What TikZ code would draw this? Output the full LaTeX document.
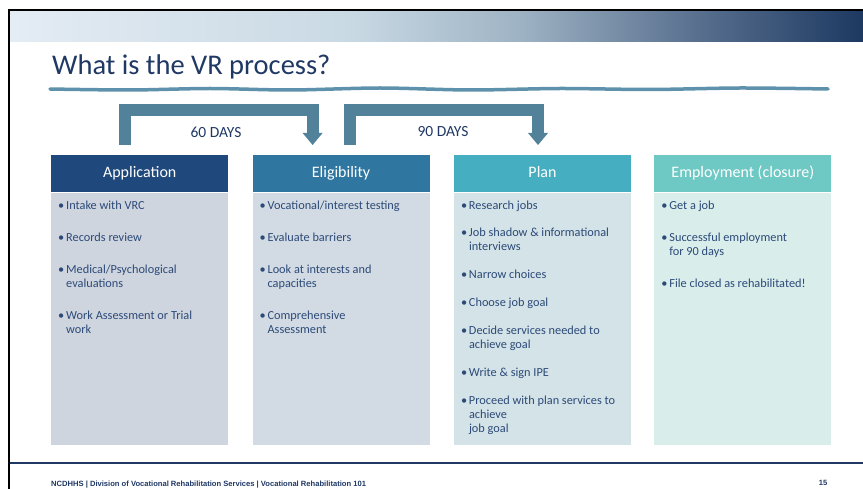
\documentclass[tikz,border=0pt]{standalone}
\usepackage{fontspec}
\setmainfont{Carlito}
\newfontfamily\footfont{Liberation Sans}
\usepackage{xcolor}
\usetikzlibrary{positioning,
	calc,
	arrows.meta}
\definecolor{navy}{HTML}{1F3864}
\definecolor{txtblue}{HTML}{2C4A78}
\definecolor{arrowblue}{HTML}{528299}
\definecolor{waveblue}{HTML}{5E91AB}
\definecolor{apphd}{HTML}{1F487C}
\definecolor{elihd}{HTML}{2F76A0}
\definecolor{planhd}{HTML}{45AEC0}
\definecolor{emphd}{HTML}{6EC8C3}
\definecolor{appbd}{HTML}{CFD5DF}
\definecolor{elibd}{HTML}{D2DBE3}
\definecolor{planbd}{HTML}{D4E3E7}
\definecolor{empbd}{HTML}{D9EDEB}
\definecolor{bandA}{HTML}{E4ECF4}
\definecolor{bandB}{HTML}{C9D9E4}
\definecolor{bandC}{HTML}{9DB2C3}
\definecolor{bandD}{HTML}{5A7190}
\definecolor{bandE}{HTML}{1D3961}
\pgfdeclarehorizontalshading{topband}{100bp}{color(0bp)=(bandA); color(25bp)=(bandA);
	color(45bp)=(bandB); color(55bp)=(bandC); color(65bp)=(bandD);
	color(75bp)=(bandE); color(100bp)=(bandE)}
\tikzstyle{hdr}=[minimum width=177pt, minimum height=37pt, inner sep=0,
		text height=11pt, text depth=3.5pt,
		text=white, font=\fontsize{16}{18}\selectfont]
\tikzstyle{bdy}=[minimum width=177pt, minimum height=252pt, inner sep=0]
\tikzstyle{items}=[anchor=base west, inner sep=0, text=txtblue,
		font=\fontsize{12.3}{14}\selectfont]
\tikzstyle{days}=[text=navy, font=\fontsize{15.5}{18}\selectfont]
\tikzstyle{dayarrow}=[draw=arrowblue, line width=12pt,
		-{Triangle[length=12pt, width=20pt, line width=0pt]}]
\tikzstyle{wave}=[draw=waveblue, line width=3.5pt, line cap=round]
\tikzstyle{foottext}=[inner sep=0, text=navy,
		font=\footfont\bfseries\fontsize{7.6}{9}\selectfont]

\begin{document}
\begin{tikzpicture}[x=1pt, y=-1pt]
                \useasboundingbox (0,0) rectangle (863,489);
                % title band and frame
                \shade[shading=topband] (10,11) rectangle (863,42);
                \draw[line width=2pt] (9,489) -- (9,10) -- (863,10);
                \node[anchor=base west, inner sep=0, text=navy, font=\fontsize{28.5}{32}\selectfont] (title) at (52,75) {What is the VR process?};
                \draw[wave] plot[smooth] coordinates {(50,89) (130,90) (210,88.5) (290,90) (380,88) (470,90) (560,88.5) (650,89.5) (740,88) (828,89)};
                % headers
                \node[hdr, fill=apphd, anchor=north west] (apph) at (51,155) {Application};
                \node[hdr, fill=elihd, right=24pt of apph] (elih) {Eligibility};
                \node[hdr, fill=planhd, right=24pt of elih] (planh) {Plan};
                \node[hdr, fill=emphd, right=23pt of planh] (emph) {Employment (closure)};
                % bodies
                \node[bdy, fill=appbd, below=0pt of apph] (appb) {};
                \node[bdy, fill=elibd, below=0pt of elih] (elib) {};
                \node[bdy, fill=planbd, below=0pt of planh] (planb) {};
                \node[bdy, fill=empbd, below=0pt of emph] (empb) {};
                % items
                \node[items] (appi) at ([shift={(7,17)}]appb.north west) {\begin{tabular}[t]{@{}p{8pt}@{}l@{}}
                    \textbullet & Intake with VRC\\[18pt]
                    \textbullet & Records review\\[18pt]
                    \textbullet & Medical/Psychological\\ & evaluations\\[18pt]
                    \textbullet & Work Assessment or Trial\\ & work
                \end{tabular}};
                \node[items] (elii) at ([shift={(7,17)}]elib.north west) {\begin{tabular}[t]{@{}p{8pt}@{}l@{}}
                    \textbullet & Vocational/interest testing\\[18pt]
                    \textbullet & Evaluate barriers\\[18pt]
                    \textbullet & Look at interests and\\ & capacities\\[18pt]
                    \textbullet & Comprehensive\\ & Assessment
                \end{tabular}};
                \node[items] (plani) at ([shift={(7,17)}]planb.north west) {\begin{tabular}[t]{@{}p{8pt}@{}l@{}}
                    \textbullet & Research jobs\\[13.5pt]
                    \textbullet & Job shadow \& informational\\ & interviews\\[14pt]
                    \textbullet & Narrow choices\\[14pt]
                    \textbullet & Choose job goal\\[13.5pt]
                    \textbullet & Decide services needed to\\ & achieve goal\\[14pt]
                    \textbullet & Write \& sign IPE\\[14pt]
                    \textbullet & Proceed with plan services to\\ & achieve\\ & job goal
                \end{tabular}};
                \node[items] (empi) at ([shift={(7,17)}]empb.north west) {\begin{tabular}[t]{@{}p{8pt}@{}l@{}}
                    \textbullet & Get a job\\[18pt]
                    \textbullet & Successful employment\\ & for 90 days\\[18pt]
                    \textbullet & File closed as rehabilitated!
                \end{tabular}};
                % day arrows
                \draw[dayarrow] ([shift={(-14.5,-10)}]apph.north) -- ++(0,-34.5) -| ([shift={(-28.5,-10)}]elih.north);
                \draw[dayarrow] ([shift={(8.5,-10)}]elih.north) -- ++(0,-34.5) -| ([shift={(-4.5,-10)}]planh.north);
                \node[days] (d60) at (216,132) {60 DAYS};
                \node[days] (d90) at (443,132) {90 DAYS};
                % footer
                \draw[navy, line width=2pt] (10,463) -- (863,463);
                \node[foottext, anchor=base west] (foot) at (51,486) {NCDHHS | Division of Vocational Rehabilitation Services | Vocational Rehabilitation 101};
                \node[foottext] (pagenr) at (823,483) {15};
            \end{tikzpicture}
\end{document}
